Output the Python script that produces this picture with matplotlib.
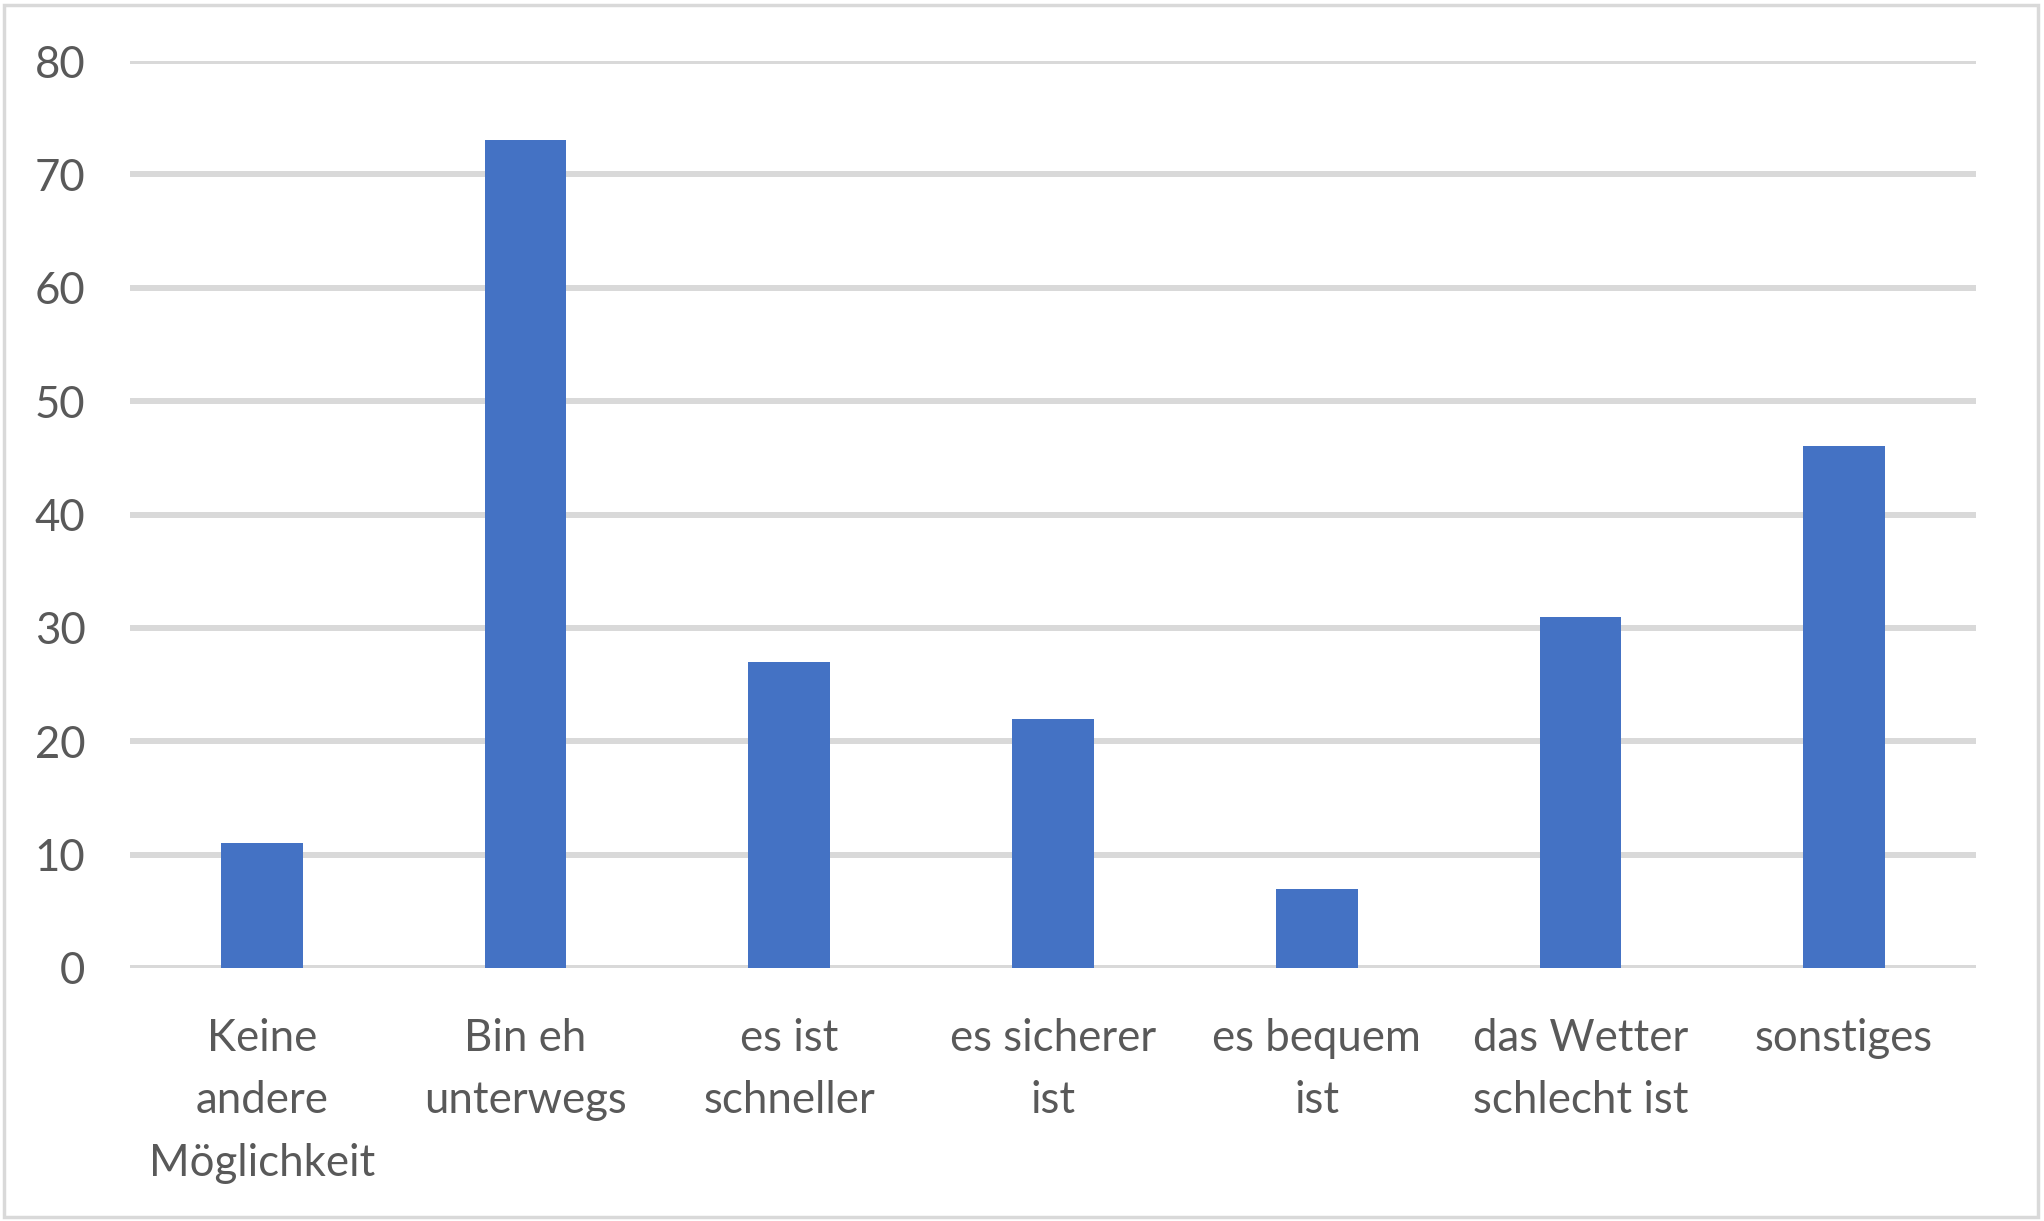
import numpy as np
import matplotlib.pyplot as plt
from matplotlib.patches import Rectangle


kategorien = ["Keine\nandere\nMöglichkeit", "Bin eh\nunterwegs", "es ist\nschneller",
              "es sicherer\nist", "es bequem\nist", "das Wetter\nschlecht ist", "sonstiges"]
anzahl = [11, 73, 27, 22, 7, 31, 46]
y_ticks = [0, 10, 20, 30, 40, 50, 60, 70, 80]

plt.rcParams["font.family"] = ["Lato", "DejaVu Sans"]

fig = plt.figure(figsize=(20.44, 12.21), dpi=100)
ax = fig.add_axes([130/2044, 1 - 968/1221, (1976-130)/2044, (968-61)/1221])

x = np.arange(len(kategorien))
ax.bar(x, anzahl, width=0.31, color="#4472C4", zorder=3)

ax.set_xlim(-0.5, len(kategorien) - 0.5)
ax.set_ylim(0, 80)
ax.set_yticks(y_ticks)
ax.set_xticks(x)
ax.set_xticklabels(kategorien, linespacing=1.65)
ax.yaxis.grid(True, color="#D9D9D9", linewidth=4.3, zorder=0)
ax.tick_params(axis="both", length=0, labelsize=31.5, labelcolor="#595959")
ax.tick_params(axis="y", pad=32)
ax.tick_params(axis="x", pad=36)
for s in ax.spines.values():
    s.set_visible(False)

# grauer Rahmen um das ganze Diagramm
fig.patches.append(Rectangle((0.002, 0.003), 0.995, 0.993, transform=fig.transFigure,
                             fill=False, edgecolor="#D9D9D9", linewidth=2.5))

plt.savefig("out.png", dpi=100)
